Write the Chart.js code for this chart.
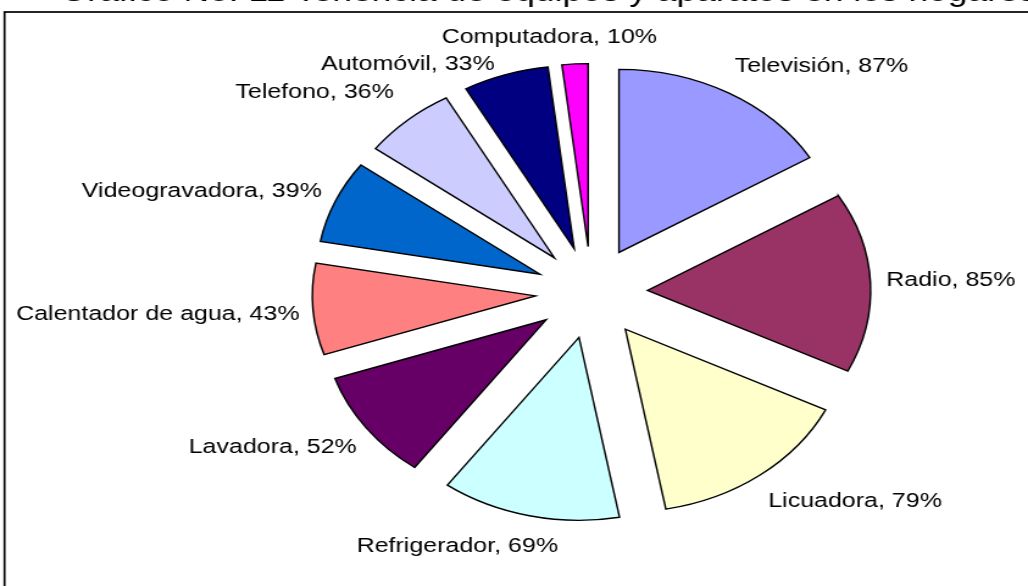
<!DOCTYPE html>
<html>
<head>
<meta charset="utf-8">
<script src="https://cdn.jsdelivr.net/npm/chart.js@4"></script>
<style>
  html, body { margin: 0; padding: 0; background: #fff; overflow: hidden; }
</style>
</head>
<body>
<canvas id="chart" width="843" height="586" style="display:block;width:1028px;height:586px"></canvas>
<script>
var categories = ['Televisión', 'Radio', 'Licuadora', 'Refrigerador', 'Lavadora', 'Calentador de agua', 'Videogravadora', 'Telefono', 'Automóvil', 'Computadora'];
var percents = [87, 85, 79, 69, 52, 43, 39, 36, 33, 10];
var sliceColors = ['#9999FF', '#993366', '#FFFFCC', '#CCFFFF', '#660066', '#FF8080', '#0066CC', '#CCCCFF', '#000080', '#FF00FF'];
var titleText = 'Gráfico No. 11 Tenencia de equipos y aparatos en los hogares';

// the original picture is stretched sideways, so the canvas is narrower and css widens it
var explode = 46;
var labelNudge = [[1, -7], [2, -1], [0, 8], [-20, 10], [1, 3], [0, 3], [-1, 2], [-4, -10], [-33, 10], [-10, -6]];

function clamp(v) { return Math.max(-1, Math.min(1, v)); }

var framePlugin = {
  id: 'frame',
  beforeDraw: function (chart) {
    var ctx = chart.ctx;
    ctx.save();
    ctx.fillStyle = '#fff';
    ctx.fillRect(0, 0, chart.width, chart.height);
    ctx.strokeStyle = '#000';
    ctx.lineWidth = 1.7;
    ctx.strokeRect(3.7, 12, chart.width + 20, chart.height + 20);
    ctx.font = '29px "Liberation Sans", Arial, sans-serif';
    ctx.fillStyle = '#000';
    ctx.textAlign = 'left';
    ctx.textBaseline = 'alphabetic';
    ctx.fillText(titleText, 49, 1);
    ctx.restore();
  }
};

// push every slice out from the centre, like an exploded excel pie
var explodePlugin = {
  id: 'explode',
  afterDatasetsUpdate: function (chart) {
    chart.getDatasetMeta(0).data.forEach(function (arc) {
      var mid = (arc.startAngle + arc.endAngle) / 2;
      arc.x += Math.cos(mid) * explode;
      arc.y += Math.sin(mid) * explode;
    });
  }
};

var labelPlugin = {
  id: 'sliceLabels',
  afterDatasetsDraw: function (chart) {
    var ctx = chart.ctx;
    ctx.save();
    ctx.font = '20.5px "Liberation Sans", Arial, sans-serif';
    ctx.fillStyle = '#000';
    ctx.textAlign = 'center';
    ctx.textBaseline = 'middle';
    chart.getDatasetMeta(0).data.forEach(function (arc, i) {
      var mid = (arc.startAngle + arc.endAngle) / 2;
      var c = Math.cos(mid), s = Math.sin(mid);
      var text = categories[i] + ', ' + percents[i] + '%';
      var w = ctx.measureText(text).width, h = 20;
      var dist = arc.outerRadius + 11;
      var x = arc.x + dist * c + w / 2 * clamp(2 * c) + labelNudge[i][0];
      var y = arc.y + dist * s + h / 2 * clamp(2 * s) + labelNudge[i][1];
      ctx.fillText(text, x, y);
    });
    ctx.restore();
  }
};

window.onload = function () {
  var ctx = document.getElementById('chart').getContext('2d');
  window.myPie = new Chart(ctx, {
    type: 'pie',
    data: {
      labels: categories,
      datasets: [{
        data: percents,
        backgroundColor: sliceColors,
        borderColor: '#000',
        borderWidth: 1.4,
        borderJoinStyle: 'miter',
        radius: 183
      }]
    },
    options: {
      responsive: false,
      animation: false,
      events: [],
      layout: { padding: { left: 127, right: 0, top: 0, bottom: 1 } },
      plugins: {
        legend: { display: false },
        tooltip: { enabled: false }
      }
    },
    plugins: [framePlugin, explodePlugin, labelPlugin]
  });
};
</script>
</body>
</html>
